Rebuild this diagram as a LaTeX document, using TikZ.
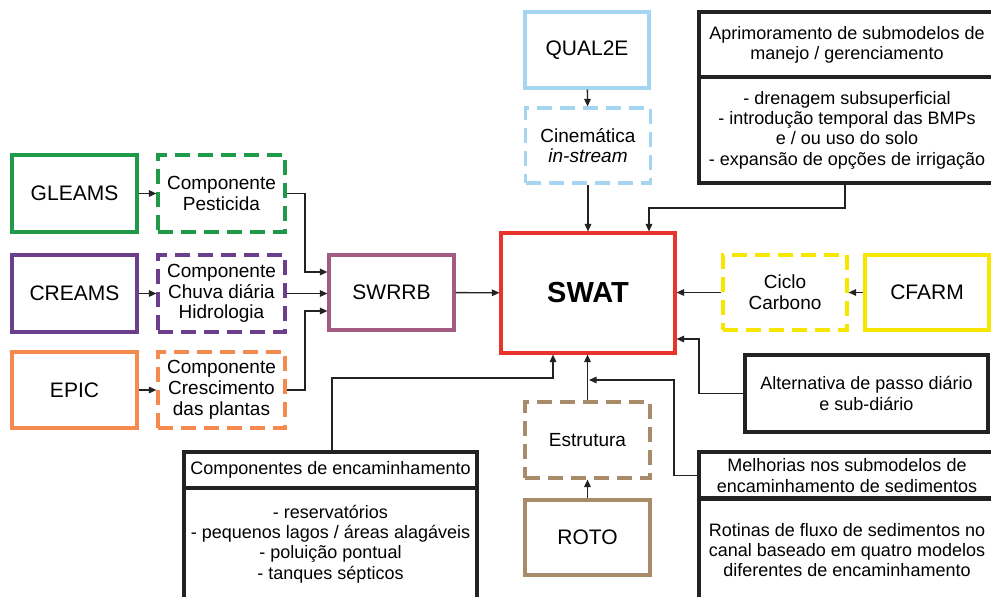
\documentclass[tikz,border=0pt]{standalone}
\usepackage{fontspec}
\setmainfont{Liberation Sans}
\usetikzlibrary{arrows.meta}
\definecolor{cgreen}{HTML}{1F9A48}
\definecolor{cpurple}{HTML}{6B3F8C}
\definecolor{corange}{HTML}{F58A4E}
\definecolor{cmauve}{HTML}{A35B82}
\definecolor{cred}{HTML}{E8342B}
\definecolor{cblue}{HTML}{A6D5F2}
\definecolor{cyellow}{HTML}{F7E700}
\definecolor{ctan}{HTML}{A88B68}
\definecolor{cline}{HTML}{222222}
\tikzset{
  model/.style={draw=#1, line width=3.1pt, rectangle, inner sep=0pt, align=center,
    font=\fontsize{21}{24}\selectfont},
  comp/.style={draw=#1, line width=3.1pt, rectangle, inner sep=0pt, align=center,
    dash pattern=on 15pt off 8pt, font=\fontsize{19}{20.7}\selectfont},
  blackbox/.style={draw=cline, line width=3.1pt, rectangle, inner sep=0pt, align=center,
    font=\fontsize{18}{20.3}\selectfont},
  conn/.style={draw=cline, line width=1.4pt, -{Triangle[length=7.5pt,width=6.5pt]}},
  plain/.style={draw=cline, line width=1.4pt}
}
\begin{document}
\begin{tikzpicture}[x=1pt,y=-1pt]
\useasboundingbox (0,0) rectangle (991,597);
\clip (0,0) rectangle (991,597);
% left models
\node[model=cgreen, minimum width=125pt, minimum height=77pt] (gleams) at (74.5,193.5) {GLEAMS};
\node[comp=cgreen, minimum width=127pt, minimum height=77pt] (pest) at (221.5,193.5) {Componente\\Pesticida};
\node[model=cpurple, minimum width=125pt, minimum height=77pt] (creams) at (74.5,293.5) {CREAMS};
\node[comp=cpurple, minimum width=127pt, minimum height=77pt] (chuva) at (221.5,293.5) {Componente\\Chuva diária\\Hidrologia};
\node[model=corange, minimum width=125pt, minimum height=76pt] (epic) at (74.5,390) {EPIC};
\node[comp=corange, minimum width=127pt, minimum height=76pt] (cresc) at (221.5,390) {Componente\\Crescimento\\das plantas};
\node[model=cmauve, minimum width=125pt, minimum height=75pt] (swrrb) at (391.5,292.5) {SWRRB};
% SWAT
\node[draw=cred, line width=3.1pt, minimum width=174pt, minimum height=120pt, inner sep=0pt,
  font=\fontsize{29}{32}\selectfont\bfseries] (swat) at (588,293) {SWAT};
% top
\node[model=cblue, minimum width=124pt, minimum height=76pt] (qual) at (587,50) {QUAL2E};
\node[comp=cblue, minimum width=125pt, minimum height=75pt] (cine) at (588,145.5) {Cinemática\\\textit{in-stream}};
\node[blackbox, minimum width=296pt, minimum height=65pt] (aprih) at (847,44.5) {Aprimoramento de submodelos de\\manejo / gerenciamento};
\node[blackbox, minimum width=296pt, minimum height=106pt] (aprib) at (847,130) {- drenagem subsuperficial\\- introdução temporal das BMPs\\e / ou uso do solo\\- expansão de opções de irrigação};
% right
\node[comp=cyellow, minimum width=124pt, minimum height=75pt] (ciclo) at (785,292.5) {Ciclo\\Carbono};
\node[model=cyellow, minimum width=124pt, minimum height=75pt] (cfarm) at (927,292.5) {CFARM};
\node[blackbox, minimum width=243pt, minimum height=77pt] (alt) at (866.5,393.5) {Alternativa de passo diário\\e sub-diário};
% bottom
\node[comp=ctan, minimum width=125pt, minimum height=76pt] (estr) at (587.5,440) {Estrutura};
\node[model=ctan, minimum width=125pt, minimum height=75pt] (roto) at (587.5,537.5) {ROTO};
\node[blackbox, minimum width=293pt, minimum height=36pt] (comph) at (330.5,470) {Componentes de encaminhamento};
\node[blackbox, minimum width=293pt, minimum height=112pt] (compb) at (330.5,544) {- reservatórios\\- pequenos lagos / áreas alagáveis\\- poluição pontual\\- tanques sépticos};
\node[blackbox, minimum width=296pt, minimum height=47pt] (melhh) at (847,475.5) {Melhorias nos submodelos de\\encaminhamento de sedimentos};
\node[blackbox, minimum width=296pt, minimum height=104pt] (melhb) at (847,550) {Rotinas de fluxo de sedimentos no\\canal baseado em quatro modelos\\diferentes de encaminhamento};
% connectors left
\draw[conn] (gleams) -- (pest);
\draw[conn] (creams) -- (chuva);
\draw[conn] (epic) -- (cresc);
\draw[conn] (pest.east) -| (305,272) -- (swrrb.west |- 0,272);
\draw[conn] (chuva.east) -- (swrrb.west |- chuva.east);
\draw[conn] (cresc.east) -| (305,311) -- (swrrb.west |- 0,311);
\draw[conn] (swrrb) -- (swat);
% top
\draw[conn] (qual) -- (cine);
\draw[conn] (cine) -- (swat.north -| cine);
\draw[conn] (aprib.south -| 845,0) |- (649,208) -- (swat.north -| 649,0);
% right
\draw[conn] (cfarm) -- (ciclo);
\draw[conn] (ciclo) -- (swat.east |- ciclo);
\draw[conn] (alt.west) -| (699,339) -- (swat.east |- 0,339);
% bottom
\draw[conn] (roto) -- (estr);
\draw[conn] (estr.north) -- (swat.south -| estr.north);
\draw[conn] (comph.north -| 332,0) |- (553,378) -- (swat.south -| 553,0);
\coordinate (mj) at (589,380);
\draw[conn] (melhh.west) -| (674,380) -- (mj);
\end{tikzpicture}
\end{document}
